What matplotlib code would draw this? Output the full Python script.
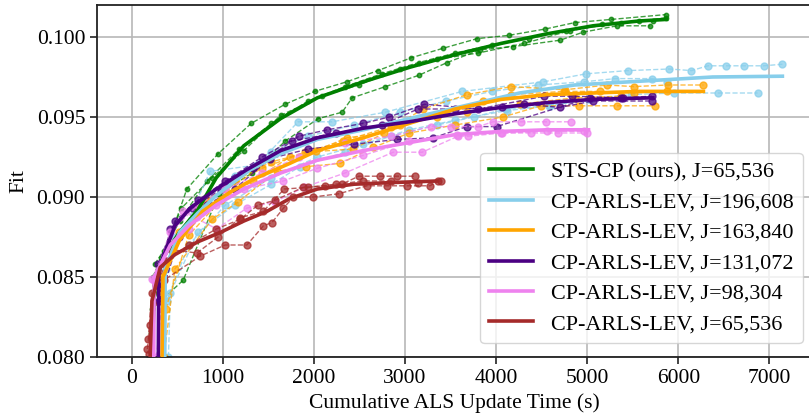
import matplotlib
matplotlib.use("Agg")
import matplotlib.pyplot as plt

plt.rcParams['font.family'] = ['Liberation Serif', 'DejaVu Serif']
plt.rcParams['font.size'] = 15.5

# ---------------- data ----------------
labels = ["STS-CP (ours), J=65,536", "CP-ARLS-LEV, J=196,608", "CP-ARLS-LEV, J=163,840",
          "CP-ARLS-LEV, J=131,072", "CP-ARLS-LEV, J=98,304", "CP-ARLS-LEV, J=65,536"]
colors = ["green", "skyblue", "orange", "indigo", "violet", "brown"]

# STS-CP J=65,536
green_mean_t = [222, 252, 343, 525, 726, 928, 1230, 1634, 2038, 2542, 3046, 3551, 4055, 4560, 5064, 5568, 5871]
green_mean_f = [0.0800, 0.0845, 0.0862, 0.0878, 0.0892, 0.0912, 0.0932, 0.0949, 0.0962, 0.0972, 0.0981, 0.0989, 0.0996, 0.1002, 0.1007, 0.1010, 0.1011]
green_run1_t = [252, 393, 605, 948, 1311, 1685, 2008, 2361, 2703, 3067, 3420, 3793, 4136, 4540, 4863, 5266, 5861]
green_run1_f = [0.0858, 0.0870, 0.0905, 0.0927, 0.0946, 0.0958, 0.0966, 0.0972, 0.0979, 0.0987, 0.0993, 0.0999, 0.1001, 0.1005, 0.1009, 0.1011, 0.1014]
green_run2_t = [222, 565, 958, 1322, 1685, 2048, 2310, 2420, 2785, 3148, 3461, 3824, 4187, 4702, 4954, 5327, 5690]
green_run2_f = [0.0830, 0.0848, 0.0902, 0.0915, 0.0935, 0.0949, 0.0953, 0.0962, 0.0969, 0.0976, 0.0984, 0.0992, 0.0994, 0.0998, 0.1003, 0.1007, 0.1007]
green_run3_t = [232, 353, 525, 827, 1180, 1533, 1937, 2341, 2744, 3148, 3551, 3955, 4358, 4762, 5165, 5569, 5860]
green_run3_f = [0.0850, 0.0866, 0.0885, 0.0910, 0.0930, 0.0946, 0.0960, 0.0969, 0.0977, 0.0984, 0.0990, 0.0995, 0.0999, 0.1004, 0.1008, 0.1010, 0.1012]
green_run4_t = [212, 323, 545, 878, 1231, 1634, 2088, 2492, 2946, 3349, 3803, 4308, 4812, 5367, 5720]
green_run4_f = [0.0815, 0.0862, 0.0893, 0.0912, 0.0929, 0.0951, 0.0963, 0.0970, 0.0980, 0.0986, 0.0990, 0.0996, 0.1004, 0.1009, 0.1010]

# CP-ARLS-LEV J=196,608
sky_mean_t = [363, 368, 525, 726, 928, 1301, 1634, 2038, 2542, 3046, 3652, 4257, 4862, 5468, 6376, 7142]
sky_mean_f = [0.0800, 0.0855, 0.0878, 0.0890, 0.0901, 0.0917, 0.0927, 0.0936, 0.0942, 0.0949, 0.0957, 0.0965, 0.0970, 0.0972, 0.0975, 0.09755]
sky_run1_t = [380, 860, 1377, 1826, 2199, 2784, 3627, 4519, 4988, 5447, 5901, 6144, 6325, 6527, 6719, 6940, 7142]
sky_run1_f = [0.0855, 0.0916, 0.0920, 0.0947, 0.0947, 0.0953, 0.0966, 0.0972, 0.0977, 0.0979, 0.0980, 0.0979, 0.0982, 0.0982, 0.0982, 0.0982, 0.0983]
sky_run2_t = [383, 625, 1029, 1533, 2038, 2542, 3046, 3551, 4116, 4590, 5004, 5478, 5952, 6436, 6870]
sky_run2_f = [0.0835, 0.0870, 0.0895, 0.0912, 0.0925, 0.0933, 0.0942, 0.0948, 0.0954, 0.0957, 0.0961, 0.0964, 0.0965, 0.0965, 0.0965]
sky_run3_t = [323, 474, 777, 1130, 1533, 1937, 2441, 2946, 3450, 3955, 4459, 4963, 5307, 5710, 5872]
sky_run3_f = [0.0845, 0.0875, 0.0893, 0.0913, 0.0928, 0.0938, 0.0945, 0.0953, 0.0960, 0.0966, 0.0970, 0.0972, 0.0974, 0.0974, 0.0972]
sky_run4_t = [403, 424, 726, 1130, 1533, 1846, 2341, 2845, 3349, 3753, 4106, 4580, 5034]
sky_run4_f = [0.0800, 0.0840, 0.0878, 0.0895, 0.0908, 0.0919, 0.0928, 0.0938, 0.0945, 0.0950, 0.0955, 0.0957, 0.0961]

# CP-ARLS-LEV J=163,840
org_mean_t = [333, 343, 525, 777, 1079, 1331, 1735, 2038, 2542, 3046, 3551, 4055, 4560, 5064, 5568, 6275]
org_mean_f = [0.0800, 0.0850, 0.0873, 0.0891, 0.0903, 0.0911, 0.0921, 0.0929, 0.0937, 0.0946, 0.0955, 0.0961, 0.0964, 0.0965, 0.0966, 0.0966]
org_run1_t = [333, 524, 827, 1130, 1533, 2028, 2361, 2764, 3198, 3682, 4167, 4752, 5216, 5509, 5881, 6275]
org_run1_f = [0.0850, 0.0878, 0.0898, 0.0910, 0.0922, 0.0929, 0.0937, 0.0940, 0.0955, 0.0964, 0.0969, 0.0967, 0.0970, 0.0969, 0.0970, 0.0970]
org_run2_t = [353, 474, 882, 1170, 1594, 1917, 2290, 2653, 3046, 3551, 4075, 4489, 4913, 5326, 5740]
org_run2_f = [0.0800, 0.0855, 0.0886, 0.0897, 0.0916, 0.0919, 0.0921, 0.0931, 0.0940, 0.0945, 0.0950, 0.0957, 0.0957, 0.0957, 0.0957]
org_run3_t = [323, 444, 726, 1029, 1432, 1907, 2431, 2946, 3450, 3854, 4167, 4742, 5140, 5509, 5871]
org_run3_f = [0.0840, 0.0870, 0.0893, 0.0905, 0.0918, 0.0928, 0.0930, 0.0945, 0.0953, 0.0960, 0.0964, 0.0966, 0.0966, 0.0965, 0.0966]
org_run4_t = [373, 625, 978, 1331, 1735, 2320, 2845, 3349, 3677, 4257, 4862, 5367]
org_run4_f = [0.0830, 0.0876, 0.0898, 0.0910, 0.0925, 0.0935, 0.0944, 0.0950, 0.0953, 0.0958, 0.0962, 0.0963]

# CP-ARLS-LEV J=131,072
pur_mean_t = [292, 297, 474, 640, 928, 1261, 1634, 2038, 2542, 3046, 3551, 4055, 4560, 5064, 5720]
pur_mean_f = [0.0800, 0.0855, 0.0882, 0.0893, 0.0905, 0.0917, 0.0929, 0.0937, 0.0943, 0.0947, 0.0952, 0.0956, 0.0959, 0.0961, 0.0962]
pur_run1_t = [292, 474, 726, 1029, 1432, 1836, 2144, 2542, 2825, 3213, 3803, 4529, 4832, 5397, 5710]
pur_run1_f = [0.0858, 0.0885, 0.0898, 0.0910, 0.0925, 0.0938, 0.0942, 0.0946, 0.0950, 0.0958, 0.0955, 0.0963, 0.0963, 0.0962, 0.0963]
pur_run2_t = [282, 424, 676, 978, 1331, 1760, 2240, 2744, 3142, 3551, 4065, 4308, 4701, 5064, 5710]
pur_run2_f = [0.0845, 0.0880, 0.0893, 0.0905, 0.0918, 0.0935, 0.0940, 0.0945, 0.0955, 0.0955, 0.0956, 0.0958, 0.0956, 0.0960, 0.0960]
pur_run3_t = [302, 524, 827, 1130, 1518, 1937, 2441, 2915, 3309, 3677, 4005, 5034, 5367]
pur_run3_f = [0.0835, 0.0875, 0.0895, 0.0905, 0.0924, 0.0930, 0.0933, 0.0936, 0.0937, 0.0944, 0.0944, 0.0962, 0.0962]

# CP-ARLS-LEV J=98,304
vio_mean_t = [242, 247, 424, 625, 928, 1231, 1634, 2038, 2542, 3046, 3551, 4055, 4560, 5014]
vio_mean_f = [0.0800, 0.0850, 0.0870, 0.0882, 0.0895, 0.0905, 0.0915, 0.0923, 0.0929, 0.0934, 0.0939, 0.0941, 0.0942, 0.0942]
vio_run1_t = [242, 424, 726, 1029, 1432, 1836, 2341, 2845, 3280, 3506, 3803, 3965, 4272, 4550, 4822]
vio_run1_f = [0.0848, 0.0878, 0.0895, 0.0905, 0.0915, 0.0925, 0.0934, 0.0938, 0.0944, 0.0944, 0.0944, 0.0947, 0.0947, 0.0947, 0.0947]
vio_run2_t = [222, 565, 933, 1261, 1574, 1886, 2341, 2870, 3188, 3581, 3692, 4065, 4388, 4681, 4999]
vio_run2_f = [0.0849, 0.0891, 0.0880, 0.0893, 0.0897, 0.0906, 0.0915, 0.0928, 0.0928, 0.0938, 0.0938, 0.0940, 0.0940, 0.0940, 0.0940]
vio_run3_t = [272, 373, 625, 928, 1231, 1664, 2038, 2542, 3046, 3571, 4055, 4560, 4963]
vio_run3_f = [0.0800, 0.0860, 0.0880, 0.0895, 0.0905, 0.0910, 0.0918, 0.0926, 0.0935, 0.0939, 0.0940, 0.0941, 0.0941]

# CP-ARLS-LEV J=65,536
brn_mean_t = [202, 222, 313, 474, 726, 978, 1231, 1483, 1735, 2038, 2441, 2845, 3349]
brn_mean_f = [0.0800, 0.0835, 0.0856, 0.0864, 0.0872, 0.0878, 0.0885, 0.0891, 0.0899, 0.0905, 0.0908, 0.0909, 0.0910]
brn_run1_t = [181, 222, 373, 625, 928, 1190, 1387, 1574, 1881, 2123, 2305, 2492, 2724, 2915, 3112]
brn_run1_f = [0.0811, 0.0840, 0.0860, 0.0870, 0.0880, 0.0886, 0.0895, 0.0898, 0.0906, 0.0907, 0.0908, 0.0913, 0.0913, 0.0913, 0.0913]
brn_run2_t = [171, 202, 353, 750, 1026, 1264, 1446, 1539, 1665, 1775, 1992, 2270, 2583, 2805, 3022, 3274, 3364]
brn_run2_f = [0.0805, 0.0820, 0.0848, 0.0863, 0.0870, 0.0870, 0.0882, 0.0884, 0.0893, 0.0900, 0.0900, 0.0902, 0.0907, 0.0907, 0.0907, 0.0907, 0.0910]
brn_run3_t = [192, 272, 444, 716, 948, 1190, 1443, 1675, 1937, 2240, 2542, 2845, 3147, 3400]
brn_run3_f = [0.0802, 0.0845, 0.0867, 0.0865, 0.0875, 0.0887, 0.0891, 0.0905, 0.0906, 0.0908, 0.0910, 0.0910, 0.0909, 0.0910]

x_ticks = [0, 1000, 2000, 3000, 4000, 5000, 6000, 7000]
y_ticks = [0.080, 0.085, 0.090, 0.095, 0.100]

series = [
    (green_mean_t, green_mean_f, [(green_run1_t, green_run1_f), (green_run2_t, green_run2_f),
                                  (green_run3_t, green_run3_f), (green_run4_t, green_run4_f)]),
    (sky_mean_t, sky_mean_f, [(sky_run1_t, sky_run1_f), (sky_run2_t, sky_run2_f),
                              (sky_run3_t, sky_run3_f), (sky_run4_t, sky_run4_f)]),
    (org_mean_t, org_mean_f, [(org_run1_t, org_run1_f), (org_run2_t, org_run2_f),
                              (org_run3_t, org_run3_f), (org_run4_t, org_run4_f)]),
    (pur_mean_t, pur_mean_f, [(pur_run1_t, pur_run1_f), (pur_run2_t, pur_run2_f),
                              (pur_run3_t, pur_run3_f)]),
    (vio_mean_t, vio_mean_f, [(vio_run1_t, vio_run1_f), (vio_run2_t, vio_run2_f),
                              (vio_run3_t, vio_run3_f)]),
    (brn_mean_t, brn_mean_f, [(brn_run1_t, brn_run1_f), (brn_run2_t, brn_run2_f),
                              (brn_run3_t, brn_run3_f)]),
]

# ---------------- plot ----------------
fig = plt.figure(figsize=(8.09, 4.17), dpi=100)
ax = fig.add_axes([97 / 809, 1 - 357 / 417, 715 / 809, 352 / 417])

handles = [None] * len(series)
for i in reversed(range(len(series))):
    mt, mf, runs = series[i]
    c = colors[i]
    ms = 3.2 if i == 0 else 5.0
    for rt, rf in runs:
        ax.plot(rt, rf, linestyle='--', color=c, linewidth=1.0, marker='o',
                markersize=ms, alpha=0.75, zorder=2 + i * 0.01)
    h, = ax.plot(mt, mf, color=c, linewidth=2.6, label=labels[i], zorder=3 + i * 0.01)
    handles[i] = h

ax.set_xlim(-381, 7467)
ax.set_ylim(0.080, 0.1020)
ax.set_xticks(x_ticks)
ax.set_yticks(y_ticks)
ax.set_yticklabels([f"{v:.3f}" for v in y_ticks])
ax.grid(True, color='#b8b8b8', linewidth=1.2)
ax.set_axisbelow(True)
for s in ax.spines.values():
    s.set_color('#222222')
    s.set_linewidth(1.3)
ax.tick_params(axis='both', length=5, width=1.2, color='#222222')
ax.set_xlabel("Cumulative ALS Update Time (s)", labelpad=4)
ax.set_ylabel("Fit", labelpad=6)

ax.legend(handles=handles, loc='lower right', bbox_to_anchor=(0.987, 0.040),
          borderaxespad=0, labelspacing=0.45, framealpha=0.8, fontsize=15.9,
          handlelength=2.0)

fig.savefig("out.png", dpi=100)
